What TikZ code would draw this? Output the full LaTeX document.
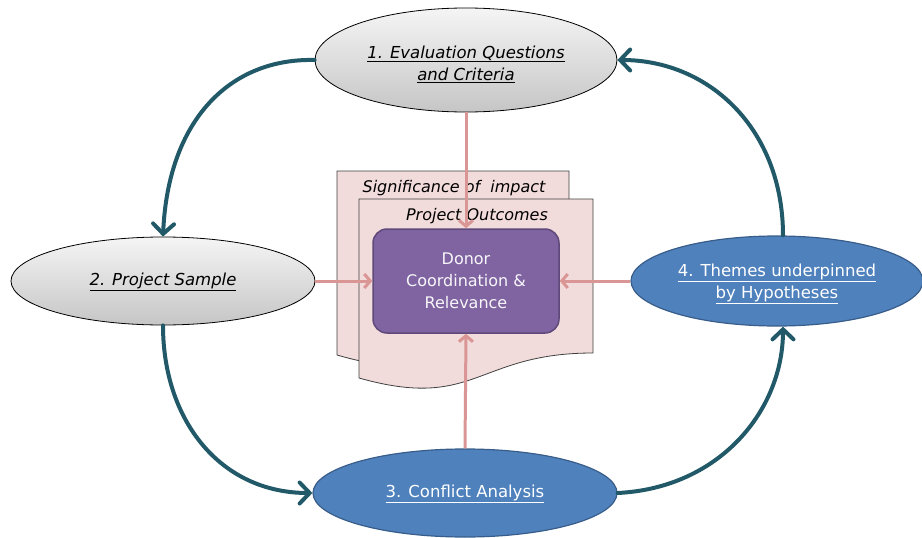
\documentclass[tikz,border=0pt]{standalone}
\usepackage{fontspec}
\setmainfont{DejaVu Sans}
\usetikzlibrary{shapes.geometric,arrows.meta}
\definecolor{teal}{RGB}{33,89,104}
\definecolor{pinkline}{RGB}{217,150,148}
\definecolor{docfill}{RGB}{242,220,219}
\definecolor{purfill}{RGB}{128,100,162}
\definecolor{purdraw}{RGB}{95,73,122}
\definecolor{bluefill}{RGB}{79,129,189}
\definecolor{bluedraw}{RGB}{56,93,138}
\newcommand{\ul}[1]{\underline{#1}}
\tikzset{
  grayell/.style={ellipse,draw=black,line width=0.8pt,top color=gray!8,bottom color=gray!45,inner sep=0pt},
  blueell/.style={ellipse,draw=bluedraw,line width=1.2pt,fill=bluefill,inner sep=0pt},
  graytext/.style={align=center,inner sep=0pt,font=\fontsize{16.5}{22}\selectfont\itshape},
  bluetext/.style={align=center,inner sep=0pt,text=white,font=\fontsize{16.5}{22}\selectfont},
  docshape/.style={draw=black!75,line width=0.8pt,fill=docfill},
  cyclearrow/.style={draw=teal,line width=4pt,line cap=round,-{Straight Barb[length=10pt,width=21pt,line cap=round]}},
  pinkarrow/.style={draw=pinkline,line width=3pt,-{Straight Barb[length=6pt,width=14pt]}},
  doctext/.style={font=\fontsize{16}{20}\selectfont\itshape,inner sep=0pt}
}
\begin{document}
\begin{tikzpicture}[x=1pt,y=-1pt]
\useasboundingbox (0,0) rectangle (922,538);
% documents
\path[docshape] (337,171) -- (569,171) -- (569,329) .. controls (453,329) and (453,389) .. (337,355) -- cycle;
\node[doctext] (sig) at (454,188) {Significance of\ \ impact};
\path[docshape] (359,199) -- (593,199) -- (593,353) .. controls (476,353) and (476,411) .. (359,378) -- cycle;
\node[doctext] (po) at (477,216) {Project Outcomes};
% centre box
\node[draw=purdraw,line width=1.5pt,fill=purfill,rounded corners=14pt,minimum width=186pt,minimum height=104pt,align=center,text=white!94!purfill,font=\fontsize{16}{22}\selectfont] (don) at (466,281) {Donor\\Coordination \&\\Relevance};
% ellipses
\node[grayell,minimum width=302pt,minimum height=104pt] (e1) at (466,60) {};
\node[graytext] (t1) at ([yshift=-4pt]e1.center) {\ul{1. Evaluation Questions}\\\ul{and Criteria}};
\node[grayell,minimum width=304pt,minimum height=88pt] (e2) at (163,281) {};
\node[graytext] (t2) at ([yshift=-1pt]e2.center) {\ul{2. Project Sample}};
\node[blueell,minimum width=304pt,minimum height=88pt] (e3) at (465,493) {};
\node[bluetext] (t3) at ([yshift=-1pt]e3.center) {\ul{3. Conflict Analysis}};
\node[blueell,minimum width=292pt,minimum height=90pt] (e4) at (777,281) {};
\node[bluetext] (t4) at ([yshift=-3pt]e4.center) {\ul{4. Themes underpinned}\\\ul{by Hypotheses}};
% pink arrows
\draw[pinkarrow] (e1.south) -- (don.north);
\draw[pinkarrow] (e2.east) -- (don.west);
\draw[pinkarrow] (e4.west) -- (don.east);
\draw[pinkarrow] (e3.north) -- (don.south);
% cycle arrows
\draw[cyclearrow] (e1.west) .. controls (230,58) and (168,120) .. (e2.north);
\draw[cyclearrow] (e2.south) .. controls (163,420) and (220,493) .. (e3.west);
\draw[cyclearrow] (e3.east) .. controls (720,488) and (783,410) .. ([xshift=6pt]e4.south);
\draw[cyclearrow] ([xshift=6pt]e4.north) .. controls (783,130) and (710,60) .. (e1.east);
\end{tikzpicture}
\end{document}
